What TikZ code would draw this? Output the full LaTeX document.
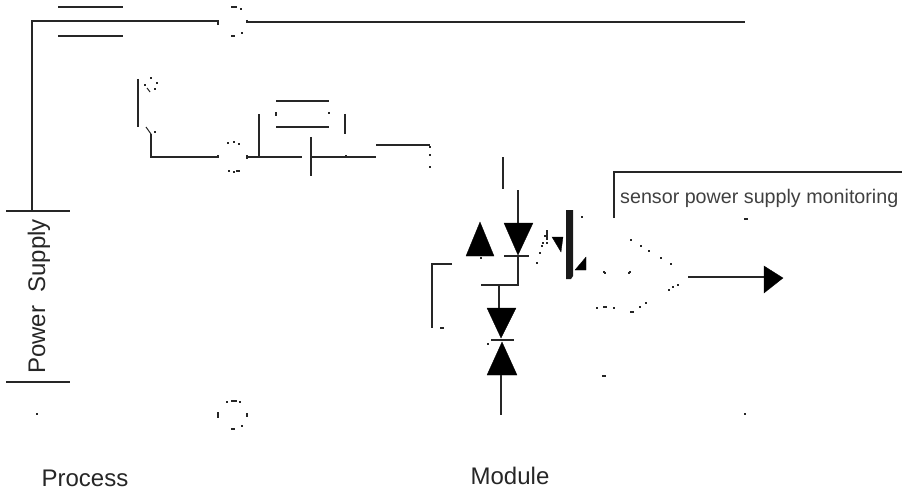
\documentclass[tikz,border=0pt]{standalone}
\usepackage{fontspec}
\setmainfont{Liberation Sans}
\tikzset{
  x=1pt,y=-1pt,
  wire/.style={draw=black!85,line width=1.2pt},
  solid tri/.style={fill=black,draw=black,line width=0.3pt},
  thick bar/.style={fill=black!90,draw=none},
  label text/.style={inner sep=0pt,font=\fontsize{24}{24}\selectfont,text=black!85},
  small text/.style={inner sep=0pt,font=\fontsize{19.7}{20}\selectfont,text=black!75},
  speck/.style={fill=black!85,draw=none}
}
\newcommand{\specks}[1]{\foreach \px/\py in {#1}{\fill[speck] (\px-0.8,\py-0.8) rectangle (\px+0.8,\py+0.8);}}
\begin{document}
\begin{tikzpicture}
\useasboundingbox (0,0) rectangle (902,492);
% supply wiring
\coordinate (supTop) at (32,21);
\coordinate (supEnd) at (218,21);
\coordinate (supBase) at (32,211);
\coordinate (gndAL) at (6,211);
\coordinate (gndAR) at (70,211);
\coordinate (gndBL) at (6,382);
\coordinate (gndBR) at (70,382);
\draw[wire] (supEnd) ++(0,4) -- (supEnd) -- (supTop) -- (supBase);
\draw[wire] (gndAL) -- (gndAR);
\draw[wire] (gndBL) -- (gndBR);
\coordinate (plateAL) at (58,7);
\coordinate (plateAR) at (123,7);
\coordinate (plateBL) at (58,36);
\coordinate (plateBR) at (123,36);
\draw[wire] (plateAL) -- (plateAR);
\draw[wire] (plateBL) -- (plateBR);
\coordinate (railL) at (247,22);
\coordinate (railR) at (745,22);
\draw[wire] (railL) ++(0,-2) -- ++(0,3);
\draw[wire] (railL) -- (railR);
\specks{232/7,234/7,236/7,241/9,232/36,234/36,242/33}
% switch
\coordinate (swA) at (138,79);
\coordinate (swB) at (138,127);
\draw[wire] (swA) -- (swB);
\specks{151/78,157/83,145/85,155/89,155/132}
\coordinate (slA1) at (147,88);
\coordinate (slA2) at (150,92);
\coordinate (slB1) at (146,127);
\coordinate (slB2) at (151,134);
\draw[wire,line width=1pt] (slA1) -- (slA2);
\draw[wire,line width=1pt] (slB1) -- (slB2);
\coordinate (swOut) at (151,134);
\coordinate (swCorner) at (151,157);
\coordinate (swEnd) at (218,157);
\draw[wire] (swOut) -- (swCorner) -- (swEnd) ++(0,-2) -- ++(0,3);
\specks{228/143,234/142,239/144,229/171,234/172,237/171,239/171}
% filter
\coordinate (fL) at (247,157);
\coordinate (fJ) at (259,157);
\coordinate (fT) at (259,114);
\coordinate (fM) at (302,157);
\draw[wire] (fL) ++(0,-2) -- ++(0,4);
\draw[wire] (fL) -- (fM);
\draw[wire] (fJ) -- (fT);
\coordinate (cAL) at (276,101);
\coordinate (cAR) at (329,101);
\coordinate (cBL) at (276,127);
\coordinate (cBR) at (329,127);
\draw[wire] (cAL) -- (cAR);
\draw[wire] (cBL) -- (cBR);
\specks{276/113,276/115,329/113,346/156,430/147,430/155,430/167}
\coordinate (fR1) at (345,114);
\coordinate (fR2) at (345,134);
\draw[wire] (fR1) -- (fR2);
\coordinate (gT) at (311,137);
\coordinate (gB) at (311,176);
\draw[wire] (gT) -- (gB);
\coordinate (hL) at (311,157);
\coordinate (hR) at (376,157);
\draw[wire] (hL) -- (hR);
\coordinate (iL) at (376,145);
\coordinate (iR) at (430,145);
\draw[wire] (iL) -- (iR);
% diodes
\coordinate (dA) at (503,157);
\coordinate (dB) at (503,189);
\draw[wire] (dA) -- (dB);
\coordinate (ledIn) at (518,190);
\coordinate (ledTop) at (518,223);
\draw[wire] (ledIn) -- (ledTop);
\fill[solid tri] (504,223) -- (533,223) -- (518,255) -- cycle;
\coordinate (ledBarL) at (504,256);
\coordinate (ledBarR) at (529,256);
\draw[wire] (ledBarL) -- (ledBarR);
\fill[solid tri] (466,256) -- (494,256) -- (480,222) -- cycle;
\coordinate (ledK) at (518,256);
\coordinate (ledC) at (518,285);
\coordinate (ledW) at (481,285);
\draw[wire] (ledK) -- (ledC) -- (ledW);
\coordinate (zIn) at (499,285);
\coordinate (zTop) at (499,308);
\draw[wire] (zIn) -- (zTop);
\fill[solid tri] (487,308) -- (516,308) -- (501,338) -- cycle;
\fill[solid tri] (487,375) -- (517,375) -- (502,342) -- cycle;
\coordinate (zBarL) at (491,340);
\coordinate (zBarR) at (514,340);
\draw[wire] (zBarL) -- (zBarR);
\coordinate (zOut) at (501,375);
\coordinate (zEnd) at (501,415);
\draw[wire] (zOut) -- (zEnd);
\coordinate (brA) at (452,264);
\coordinate (brB) at (432,264);
\coordinate (brC) at (432,328);
\draw[wire] (brA) -- (brB) -- (brC);
\specks{441/328,443/328,488/344,481/258,37/414}
% phototransistor
\fill[thick bar] (566,210) -- (573,210) -- (573,276) -- (571,279) -- (566,279) -- cycle;
\fill[solid tri] (552,237) -- (563,237) -- (561,252) -- cycle;
\fill[solid tri] (586,257) -- (586,270) -- (575,270) -- cycle;
\coordinate (tk1) at (547,230);
\coordinate (tk2) at (547,240);
\draw[wire,line width=2pt] (tk1) -- (tk2);
\specks{545/236,543/243,547/243,542/246,540/253,537/263,582/217}
% sensor frame
\coordinate (frB) at (614,218);
\coordinate (frC) at (614,172);
\coordinate (frR) at (902,172);
\draw[wire] (frB) -- (frC) -- (frR);
\node[small text,anchor=base west] (sensorLabel) at (620,203) {sensor power supply monitoring};
% comparator specks
\specks{631/240,641/246,649/251,661/258,671/264,604/272,605/273,630/272,629/273,678/285,673/287,669/290,646/303,640/307,631/312,633/312,614/308,604/307,606/307,597/308,603/376,605/376,745/219,747/219,745/414}
% output arrow
\coordinate (outA) at (688,277);
\coordinate (outB) at (766,277);
\draw[wire] (outA) -- (outB);
\fill[solid tri] (764,266) -- (783,278) -- (764,293) -- cycle;
% labels
\node[label text,rotate=90,anchor=base] (supplyLabel) at (45,296.5) {Power\ \ Supply};
\node[label text,anchor=base] (processLabel) at (85,486) {Process};
\node[label text,anchor=base] (moduleLabel) at (510,484) {Module};
% loose circle specks
\specks{227/402,232/401,234/401,236/401,240/402,218/413,218/415,218/417,247/414,247/416,232/429,234/429,242/426}
\end{tikzpicture}
\end{document}
